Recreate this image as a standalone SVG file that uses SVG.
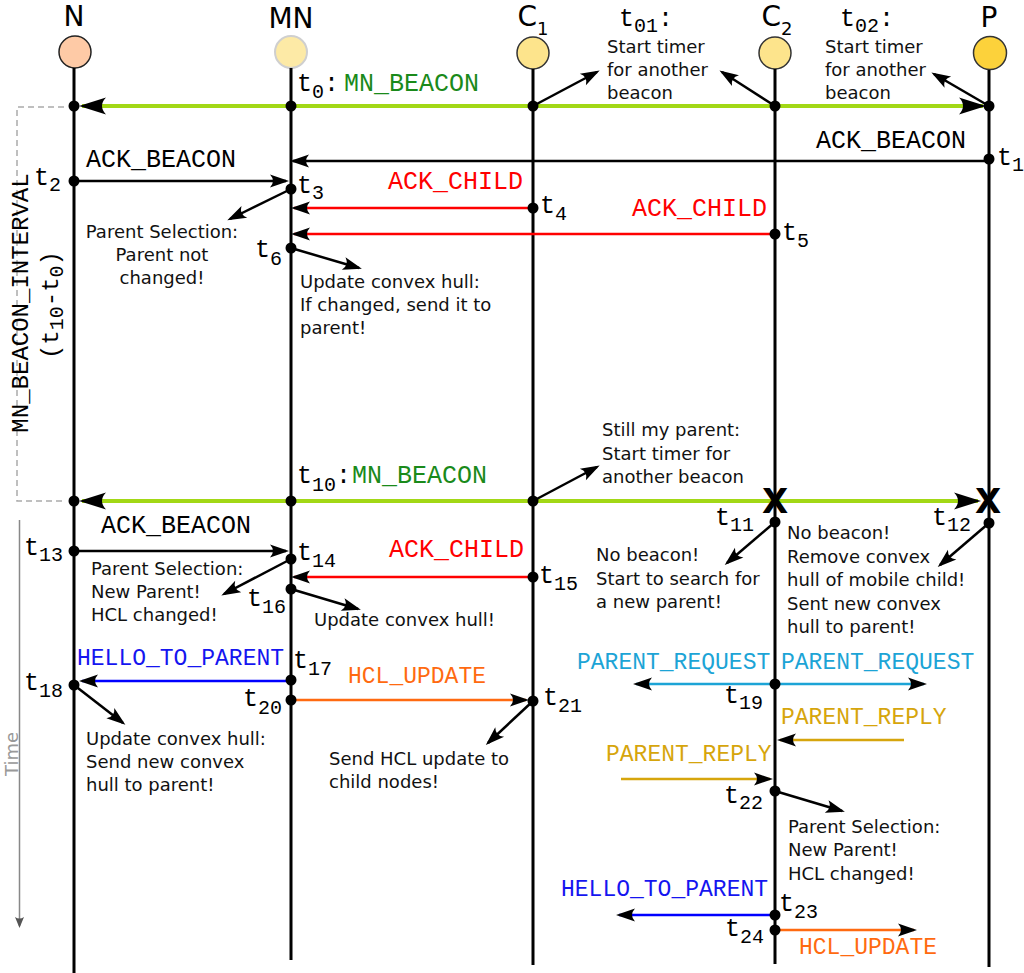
<svg xmlns="http://www.w3.org/2000/svg" width="1024" height="973" viewBox="0 0 1024 973">
<style>
.life{stroke:#000;stroke-width:3;fill:none}
.msg{stroke-width:2.5;fill:none;marker-end:url(#ah)}
.beacon{stroke:#a2d816;stroke-width:4;fill:none;marker-end:url(#ahL)}
.ann{stroke:#000;stroke-width:2.5;fill:none;marker-end:url(#ah)}
.dot{fill:#000}
.mono{font-family:"Liberation Mono","DejaVu Sans Mono",monospace;font-size:25px;fill:#000}
.m23{font-size:23px}
.sub{font-size:20px}
.note{font-family:"DejaVu Sans","Liberation Sans",sans-serif;font-size:18px;fill:#111}
.ttl{font-family:"DejaVu Sans","Liberation Sans",sans-serif;font-size:28px;fill:#000;text-anchor:middle}
.tsub{font-size:18px}
.xm{font-family:"DejaVu Sans","Liberation Sans",sans-serif;font-size:34px;font-weight:bold;fill:#000;text-anchor:middle}
</style>
<defs>
<marker id="ah" markerUnits="userSpaceOnUse" viewBox="-20 -10 26 20" refX="0" refY="0" markerWidth="26" markerHeight="20" orient="auto" overflow="visible">
<path d="M3,0 L-16,-6.5 Q-10,0 -16,6.5 Z" fill="#000"/>
</marker>
<marker id="ahL" markerUnits="userSpaceOnUse" viewBox="-30 -12 36 24" refX="0" refY="0" markerWidth="36" markerHeight="24" orient="auto" overflow="visible">
<path d="M3,0 L-24,-8.5 Q-16,0 -24,8.5 Z" fill="#000"/>
</marker>
<marker id="ahT" markerUnits="userSpaceOnUse" viewBox="-14 -8 18 16" refX="0" refY="0" markerWidth="18" markerHeight="16" orient="auto" overflow="visible">
<path d="M2,0 L-9,-4.5 Q-6,0 -9,4.5 Z" fill="#555"/>
</marker>
</defs>
<rect x="0" y="0" width="1024" height="973" fill="#fff"/>

<!-- interval bracket and time axis -->
<g id="interval">
<path d="M64,107 H17 V501 H64" fill="none" stroke="#aaa" stroke-width="1.5" stroke-dasharray="6,4"/>
<text class="mono" style="font-size:24px" text-anchor="middle" transform="translate(28,303) rotate(-90)">MN_BEACON_INTERVAL</text>
<text class="mono" style="font-size:24px" text-anchor="middle" transform="translate(58,305) rotate(-90)">(t<tspan class="sub" dy="5">10</tspan><tspan dy="-5">-t</tspan><tspan class="sub" dy="5">0</tspan><tspan dy="-5">)</tspan></text>
</g>
<g id="time">
<line x1="19.5" y1="520" x2="19.5" y2="926" stroke="#888" stroke-width="1.5" marker-end="url(#ahT)"/>
<text class="note" style="font-size:18px;fill:#999" text-anchor="middle" transform="translate(17.5,754) rotate(-90)">Time</text>
</g>

<!-- nodes -->
<g id="node-N">
<text class="ttl" x="74" y="26">N</text>
<circle cx="75" cy="52" r="16" fill="#fecaa6" stroke="#222" stroke-width="1.5"/>
<line class="life" x1="74" y1="68" x2="74" y2="973"/>
</g>
<g id="node-MN">
<text class="ttl" x="291" y="28">MN</text>
<circle cx="291" cy="52" r="16" fill="#fdeaa6" stroke="#cfcfcf" stroke-width="2"/>
<line class="life" x1="291" y1="68" x2="291" y2="960"/>
</g>
<g id="node-C1">
<text class="ttl" x="533" y="26">C<tspan class="tsub" dy="9">1</tspan></text>
<circle cx="533" cy="53" r="16" fill="#fde48c" stroke="#333" stroke-width="1.5"/>
<line class="life" x1="533" y1="69" x2="533" y2="965"/>
</g>
<g id="node-C2">
<text class="ttl" x="777" y="26">C<tspan class="tsub" dy="9">2</tspan></text>
<circle cx="775" cy="53" r="16" fill="#fde48c" stroke="#333" stroke-width="1.5"/>
<line class="life" x1="775" y1="69" x2="775" y2="964"/>
</g>
<g id="node-P">
<text class="ttl" x="989" y="27">P</text>
<circle cx="990" cy="53" r="16.5" fill="#fcd23b" stroke="#333" stroke-width="1.5"/>
<line class="life" x1="989" y1="70" x2="989" y2="967"/>
</g>

<!-- connectors -->
<g id="connectors">
<line class="beacon" x1="291" y1="106" x2="82" y2="106"/>
<line class="beacon" x1="291" y1="106" x2="983" y2="106"/>
<line class="beacon" x1="291" y1="501" x2="82" y2="501"/>
<line class="beacon" x1="291" y1="501" x2="978" y2="501"/>

<line class="msg" stroke="#000" x1="989" y1="161" x2="293" y2="161"/>
<line class="msg" stroke="#000" x1="74" y1="181" x2="286" y2="181"/>
<line class="msg" stroke="#f00" x1="533" y1="208" x2="294" y2="208"/>
<line class="msg" stroke="#f00" x1="775" y1="234" x2="294" y2="234"/>
<line class="msg" stroke="#000" x1="74" y1="551" x2="286" y2="551"/>
<line class="msg" stroke="#f00" x1="533" y1="577" x2="294" y2="577"/>
<line class="msg" stroke="#00f" x1="291" y1="681" x2="82" y2="681"/>
<line class="msg" stroke="#ff6a10" x1="291" y1="700" x2="526" y2="700"/>
<line class="msg" stroke="#1ca4d6" x1="775" y1="684" x2="636" y2="684"/>
<line class="msg" stroke="#1ca4d6" x1="775" y1="684" x2="924" y2="684"/>
<line class="msg" stroke="#d6a50c" x1="904" y1="740" x2="780" y2="740"/>
<line class="msg" stroke="#d6a50c" x1="621" y1="779" x2="770" y2="779"/>
<line class="msg" stroke="#00f" x1="775" y1="915" x2="619" y2="915"/>
<line class="msg" stroke="#ff6a10" x1="775" y1="930" x2="914" y2="930"/>

<line class="ann" x1="533" y1="106" x2="597" y2="72"/>
<line class="ann" x1="775" y1="106" x2="722" y2="72"/>
<line class="ann" x1="989" y1="106" x2="934" y2="74"/>
<line class="ann" x1="291" y1="189" x2="230" y2="219"/>
<line class="ann" x1="291" y1="248" x2="359" y2="268"/>
<line class="ann" x1="533" y1="501" x2="597" y2="467"/>
<line class="ann" x1="775" y1="522" x2="727" y2="563"/>
<line class="ann" x1="989" y1="523" x2="940" y2="565"/>
<line class="ann" x1="291" y1="559" x2="224" y2="594"/>
<line class="ann" x1="291" y1="589" x2="358" y2="609"/>
<line class="ann" x1="74" y1="685" x2="123" y2="723"/>
<line class="ann" x1="533" y1="701" x2="488" y2="743"/>
<line class="ann" x1="775" y1="791" x2="842" y2="811"/>
</g>

<!-- event dots -->
<g id="events">
<circle class="dot" cx="74" cy="106" r="5.5"/>
<circle class="dot" cx="291" cy="106" r="5.5"/>
<circle class="dot" cx="533" cy="106" r="5.5"/>
<circle class="dot" cx="775" cy="106" r="5.5"/>
<circle class="dot" cx="989" cy="106" r="5.5"/>
<circle class="dot" cx="989" cy="159" r="5.5"/>
<circle class="dot" cx="74" cy="181" r="5.5"/>
<circle class="dot" cx="291" cy="189" r="5.5"/>
<circle class="dot" cx="533" cy="208" r="5.5"/>
<circle class="dot" cx="775" cy="234" r="5.5"/>
<circle class="dot" cx="291" cy="248" r="5.5"/>
<circle class="dot" cx="74" cy="501" r="5.5"/>
<circle class="dot" cx="291" cy="501" r="5.5"/>
<circle class="dot" cx="533" cy="501" r="5.5"/>
<circle class="dot" cx="775" cy="522" r="5.5"/>
<circle class="dot" cx="989" cy="523" r="5.5"/>
<circle class="dot" cx="74" cy="551" r="5.5"/>
<circle class="dot" cx="291" cy="559" r="5.5"/>
<circle class="dot" cx="533" cy="577" r="5.5"/>
<circle class="dot" cx="291" cy="589" r="5.5"/>
<circle class="dot" cx="291" cy="680" r="5.5"/>
<circle class="dot" cx="74" cy="685" r="5.5"/>
<circle class="dot" cx="775" cy="684" r="5.5"/>
<circle class="dot" cx="291" cy="700" r="5.5"/>
<circle class="dot" cx="533" cy="701" r="5.5"/>
<circle class="dot" cx="775" cy="791" r="5.5"/>
<circle class="dot" cx="775" cy="915" r="5.5"/>
<circle class="dot" cx="775" cy="930" r="5.5"/>
<text class="xm" x="775" y="513">X</text>
<text class="xm" x="988" y="513">X</text>
</g>

<!-- message labels -->
<g id="msg-labels" class="mono">
<text x="297" y="91">t<tspan class="sub" dy="7">0</tspan><tspan dy="-7">:</tspan><tspan x="344" fill="#1a8a1a">MN_BEACON</tspan></text>
<text x="297" y="483">t<tspan class="sub" dy="8">10</tspan><tspan dy="-8">:</tspan><tspan x="352" fill="#1a8a1a">MN_BEACON</tspan></text>
<text x="816" y="148">ACK_BEACON</text>
<text x="86" y="167">ACK_BEACON</text>
<text x="388" y="189" fill="#f00">ACK_CHILD</text>
<text x="632" y="216" fill="#f00">ACK_CHILD</text>
<text x="101" y="533">ACK_BEACON</text>
<text x="389" y="557" fill="#f00">ACK_CHILD</text>
<text class="m23" x="77" y="665" fill="#1515f0">HELLO_TO_PARENT</text>
<text class="m23" x="348" y="683" fill="#ff6a10">HCL_UPDATE</text>
<text class="m23" x="577" y="669" fill="#1ca4d6">PARENT_REQUEST</text>
<text class="m23" x="781" y="669" fill="#1ca4d6">PARENT_REQUEST</text>
<text class="m23" x="781" y="724" fill="#d6a50c">PARENT_REPLY</text>
<text class="m23" x="606" y="761" fill="#d6a50c">PARENT_REPLY</text>
<text class="m23" x="561" y="896" fill="#1515f0">HELLO_TO_PARENT</text>
<text class="m23" x="799" y="954" fill="#ff6a10">HCL_UPDATE</text>
</g>

<!-- time stamps -->
<g id="timestamps" class="mono">
<text x="619" y="26">t<tspan class="sub" dy="6">01</tspan><tspan dy="-6">:</tspan></text>
<text x="840" y="26">t<tspan class="sub" dy="6">02</tspan><tspan dy="-6">:</tspan></text>
<text x="997" y="165">t<tspan class="sub" dy="6">1</tspan></text>
<text x="34" y="185">t<tspan class="sub" dy="6">2</tspan></text>
<text x="297" y="193">t<tspan class="sub" dy="6">3</tspan></text>
<text x="540" y="213">t<tspan class="sub" dy="7">4</tspan></text>
<text x="782" y="240">t<tspan class="sub" dy="7">5</tspan></text>
<text x="255" y="257">t<tspan class="sub" dy="8">6</tspan></text>
<text x="715" y="525">t<tspan class="sub" dy="6">11</tspan></text>
<text x="932" y="525">t<tspan class="sub" dy="6">12</tspan></text>
<text x="24" y="555">t<tspan class="sub" dy="6">13</tspan></text>
<text x="297" y="560">t<tspan class="sub" dy="7">14</tspan></text>
<text x="539" y="583">t<tspan class="sub" dy="7">15</tspan></text>
<text x="247" y="606">t<tspan class="sub" dy="7">16</tspan></text>
<text x="293" y="668">t<tspan class="sub" dy="7">17</tspan></text>
<text x="24" y="690">t<tspan class="sub" dy="7">18</tspan></text>
<text x="724" y="703">t<tspan class="sub" dy="6">19</tspan></text>
<text x="243" y="706">t<tspan class="sub" dy="8">20</tspan></text>
<text x="543" y="705">t<tspan class="sub" dy="7">21</tspan></text>
<text x="724" y="803">t<tspan class="sub" dy="6">22</tspan></text>
<text x="779" y="911">t<tspan class="sub" dy="7">23</tspan></text>
<text x="725" y="936">t<tspan class="sub" dy="7">24</tspan></text>
</g>

<!-- annotations -->
<g id="notes" class="note">
<text x="607" y="53">Start timer<tspan x="607" y="76">for another</tspan><tspan x="607" y="99">beacon</tspan></text>
<text x="825" y="53">Start timer<tspan x="825" y="76">for another</tspan><tspan x="825" y="99">beacon</tspan></text>
<text x="162" y="238" text-anchor="middle">Parent Selection:<tspan x="162" y="261">Parent not</tspan><tspan x="162" y="284">changed!</tspan></text>
<text x="300" y="288">Update convex hull:<tspan x="300" y="311">If changed, send it to</tspan><tspan x="300" y="334">parent!</tspan></text>
<text x="602" y="436">Still my parent:<tspan x="602" y="460">Start timer for</tspan><tspan x="602" y="483">another beacon</tspan></text>
<text x="596" y="561">No beacon!<tspan x="596" y="585">Start to search for</tspan><tspan x="596" y="608">a new parent!</tspan></text>
<text x="787" y="539">No beacon!<tspan x="787" y="563">Remove convex</tspan><tspan x="787" y="586">hull of mobile child!</tspan><tspan x="787" y="610">Sent new convex</tspan><tspan x="787" y="633">hull to parent!</tspan></text>
<text x="91" y="575">Parent Selection:<tspan x="91" y="598">New Parent!</tspan><tspan x="91" y="621">HCL changed!</tspan></text>
<text x="314" y="626">Update convex hull!</text>
<text x="86" y="745">Update convex hull:<tspan x="86" y="768">Send new convex</tspan><tspan x="86" y="791">hull to parent!</tspan></text>
<text x="329" y="765">Send HCL update to<tspan x="329" y="788">child nodes!</tspan></text>
<text x="788" y="833">Parent Selection:<tspan x="788" y="856">New Parent!</tspan><tspan x="788" y="880">HCL changed!</tspan></text>
</g>
</svg>
